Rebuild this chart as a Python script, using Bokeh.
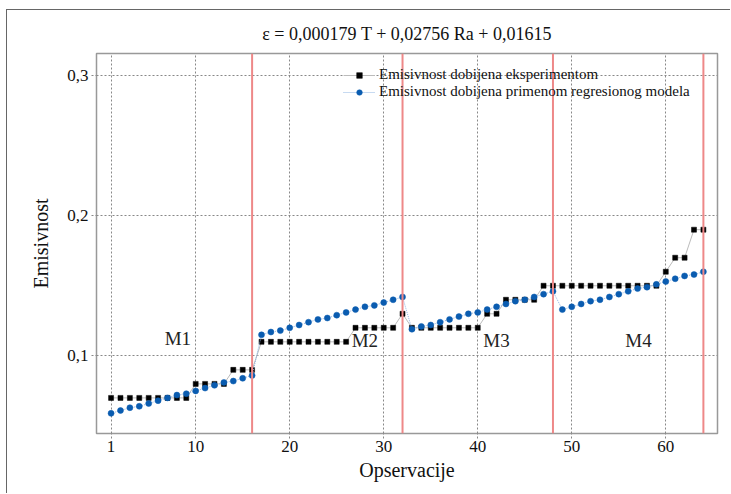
from bokeh.plotting import figure
from bokeh.models import Span, Label, Legend, LegendItem, FixedTicker, CustomJSTickFormatter, ColumnDataSource
from bokeh.embed import file_html
from bokeh.resources import INLINE

# ---- data ----
title_text = "ε = 0,000179 T + 0,02756 Ra + 0,01615"
obs = list(range(1, 65))
experiment = [
    0.07, 0.07, 0.07, 0.07, 0.07, 0.07, 0.07, 0.07, 0.07, 0.08, 0.08, 0.08, 0.08, 0.09, 0.09, 0.09,
    0.11, 0.11, 0.11, 0.11, 0.11, 0.11, 0.11, 0.11, 0.11, 0.11, 0.12, 0.12, 0.12, 0.12, 0.12, 0.13,
    0.12, 0.12, 0.12, 0.12, 0.12, 0.12, 0.12, 0.12, 0.13, 0.13, 0.14, 0.14, 0.14, 0.14, 0.15, 0.15,
    0.15, 0.15, 0.15, 0.15, 0.15, 0.15, 0.15, 0.15, 0.15, 0.15, 0.15, 0.16, 0.17, 0.17, 0.19, 0.19,
]
model = [
    0.059, 0.061, 0.063, 0.064, 0.066, 0.068, 0.070, 0.072, 0.073, 0.075, 0.077, 0.079, 0.081, 0.082, 0.084, 0.086,
    0.115, 0.117, 0.118, 0.120, 0.122, 0.124, 0.126, 0.127, 0.129, 0.131, 0.133, 0.135, 0.136, 0.138, 0.140, 0.142,
    0.119, 0.121, 0.122, 0.124, 0.126, 0.128, 0.130, 0.131, 0.133, 0.135, 0.137, 0.139, 0.140, 0.142, 0.144, 0.146,
    0.133, 0.135, 0.137, 0.139, 0.140, 0.142, 0.144, 0.146, 0.148, 0.149, 0.151, 0.153, 0.155, 0.157, 0.158, 0.160,
]
x_ticks = [1, 10, 20, 30, 40, 50, 60]
y_ticks = [0.1, 0.2, 0.3]
group_bounds = [16, 32, 48, 64]
group_names = ["M1", "M2", "M3", "M4"]
group_label_x = [8.1, 28.0, 42.0, 57.1]
group_label_y = [0.1125, 0.1107, 0.1107, 0.1107]
legend_labels = ["Emisivnost dobijena eksperimentom",
                 "Emisivnost dobijena primenom regresionog modela"]

SERIF = "Liberation Serif"

p = figure(width=724, height=484, x_range=(-0.55, 65.5), y_range=(0.0446, 0.3157),
           output_backend="svg", toolbar_location=None,
           min_border_left=89, min_border_right=14, min_border_top=43, min_border_bottom=61,
           margin=(9, 0, 0, 6),
           styles={"border-left": "1px solid #666", "border-top": "1px solid #666"})

p.title.text = title_text
p.title.text_font = SERIF
p.title.text_font_size = "18px"
p.title.text_font_style = "normal"
p.title.text_color = "#111"
p.title.align = "center"
p.title.offset = -23
p.title.standoff = 20

p.outline_line_color = "#999"
p.outline_line_width = 1.5

# axes
p.xaxis.ticker = FixedTicker(ticks=x_ticks)
p.yaxis.ticker = FixedTicker(ticks=y_ticks)
p.yaxis.formatter = CustomJSTickFormatter(code="return tick.toFixed(1).replace('.', ',');")
p.axis.axis_line_color = None
p.axis.major_tick_line_color = "#888"
p.axis.major_tick_line_dash = "2 2"
p.axis.major_tick_out = 5
p.axis.major_tick_in = 0
p.axis.minor_tick_line_color = None
p.axis.major_label_text_font = SERIF
p.axis.major_label_text_font_size = "17px"
p.axis.major_label_text_color = "#111"
p.axis.axis_label_text_font = SERIF
p.axis.axis_label_text_font_size = "20px"
p.axis.axis_label_text_font_style = "normal"
p.axis.axis_label_text_color = "#111"
p.xaxis.axis_label = "Opservacije"
p.yaxis.axis_label = "Emisivnost"
p.xaxis.major_label_standoff = 2
p.yaxis.major_label_standoff = 3
p.xaxis.axis_label_standoff = 4
p.yaxis.axis_label_standoff = 12

p.grid.grid_line_color = "#888"
p.grid.grid_line_dash = "2 2"
p.grid.grid_line_width = 1

# red separators
for b in group_bounds:
    p.add_layout(Span(location=b, dimension="height", line_color="#ee8888", line_width=2))

src = ColumnDataSource(dict(x=obs, exp=experiment, mod=model))

l1 = p.line("x", "exp", source=src, line_color="#bbbbbb", line_width=1)
s1 = p.scatter("x", "exp", source=src, marker="square", size=5, fill_color="black",
               line_color="black", line_width=0.5)
l2 = p.line("x", "mod", source=src, line_color="#8fb4e3", line_width=1, line_dash="1 1")
s2 = p.scatter("x", "mod", source=src, marker="circle", size=6, fill_color="#0a5cb0",
               line_color="#0a5cb0", line_width=0.5)

for name, lx, ly in zip(group_names, group_label_x, group_label_y):
    p.add_layout(Label(x=lx, y=ly, text=name, text_font=SERIF, text_font_size="19px",
                       text_color="#222", text_align="center", text_baseline="middle"))

legend = Legend(items=[LegendItem(label=legend_labels[0], renderers=[l1, s1]),
                       LegendItem(label=legend_labels[1], renderers=[l2, s2])],
                location=(247, 333), orientation="vertical")
legend.background_fill_alpha = 0
legend.border_line_color = None
legend.label_text_font = SERIF
legend.label_text_font_size = "15px"
legend.label_text_color = "#111"
legend.label_height = 16
legend.label_standoff = 4
legend.glyph_width = 32
legend.glyph_height = 14
legend.spacing = 0
legend.padding = 0
legend.margin = 0
p.add_layout(legend)

open("out.html", "w").write(file_html(p, INLINE))
